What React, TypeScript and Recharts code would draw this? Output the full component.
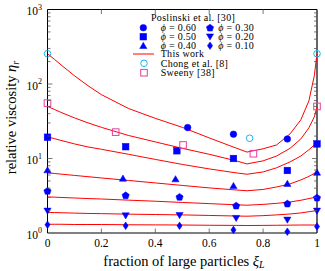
import React from 'react';
import { ComposedChart, Line, Scatter, XAxis, YAxis, ReferenceLine, Legend } from 'recharts';

// model curves ("This work"), sampled along xi_L
const xiL = [0, 0.025, 0.05, 0.1, 0.15, 0.2, 0.3, 0.4, 0.5, 0.6, 0.7, 0.74, 0.8, 0.85, 0.9, 0.94, 0.97, 0.99, 1];
const curveChong = [255, 215, 181, 129, 95, 72, 47, 34.6, 26.2, 18.9, 13.8, 12.2, 13.5, 15.2, 21.4, 33, 59.5, 129, 255];
const curveSweeny = [50, 45.7, 41.6, 35.1, 30.1, 26.2, 20.4, 16.7, 13.7, 11.4, 9.3, 8.46, 9.3, 10.8, 13.7, 18.3, 25.8, 36.2, 49.5];
const curve50 = [19.5, 18.5, 17.5, 15.7, 14.3, 13.3, 11.4, 9.72, 8.33, 7.25, 6.41, 6.15, 6.6, 7.5, 9.0, 10.8, 13.1, 15.2, 16.9];
const curve40 = [6.41, 6.3, 6.17, 5.93, 5.7, 5.48, 5.08, 4.7, 4.35, 4.03, 3.78, 3.69, 3.84, 4.15, 4.56, 5.16, 5.75, 6.3, 6.61];
const curve30 = [3.05, 3.03, 3.0, 2.95, 2.9, 2.86, 2.76, 2.67, 2.57, 2.48, 2.39, 2.36, 2.42, 2.5, 2.61, 2.75, 2.9, 3.0, 3.07];
const curve20 = [1.89, 1.88, 1.87, 1.85, 1.83, 1.82, 1.79, 1.77, 1.75, 1.72, 1.69, 1.68, 1.71, 1.75, 1.8, 1.86, 1.93, 1.98, 2.01];
const curve10 = [1.31, 1.31, 1.31, 1.3, 1.3, 1.3, 1.29, 1.285, 1.28, 1.27, 1.265, 1.26, 1.265, 1.27, 1.275, 1.28, 1.28, 1.28, 1.28];

// measured data [xi_L, eta_r]
const poslinski60 = [[0.52, 26], [0.69, 21.2], [0.89, 18.3]];
const poslinski50 = [[0, 19.3], [0.29, 14.4], [0.48, 12.7], [0.69, 10.0], [0.89, 6.9], [1, 15.7]];
const poslinski40 = [[0, 7.0], [0.28, 5.4], [0.475, 5.3], [0.69, 4.3], [0.89, 4.6], [1, 6.5]];
const poslinski30 = [[0, 3.67], [0.29, 3.2], [0.49, 3.05], [0.7, 2.33], [0.89, 2.48], [1, 2.98]];
const poslinski20 = [[0, 1.98], [0.29, 1.71], [0.49, 1.73], [0.7, 1.58], [0.89, 1.5], [1, 1.98]];
const poslinski10 = [[0, 1.29], [0.29, 1.25], [0.49, 1.25], [0.69, 1.1], [0.89, 1.04], [1, 1.22]];
const chong = [[0, 255], [0.75, 18.7], [1, 255]];
const sweeny = [[0, 55.4], [0.253, 22.6], [0.503, 15.2], [0.764, 11.6], [1, 50]];

const xTicks = [0, 0.2, 0.4, 0.6, 0.8, 1];
const xTickLabels = ['0', '0.2', '0.4', '0.6', '0.8', '1'];
const yMajor = [1, 10, 100, 1000];
const yExp = ['0', '1', '2', '3'];
const yTicks = [1, 2, 3, 4, 5, 6, 7, 8, 9, 10, 20, 30, 40, 50, 60, 70, 80, 90, 100, 200, 300, 400, 500, 600, 700, 800, 900, 1000];

const BLUE = '#0000ff';
const RED = '#ff0000';
const CYAN = '#22b4e6';
const MAGENTA = '#e8409a';
const PLOT_TOP = 9.5;
const PLOT_RIGHT = 317;
const TICK = '#555';

const curve = (ys: number[]) => xiL.map((x, i) => ({ x, y: ys[i] }));
const pts = (d: number[][]) => d.map(([x, y]) => ({ x, y }));

function poly(cx: number, cy: number, r: number, n: number, start: number) {
  const out: string[] = [];
  for (let k = 0; k < n; k++) {
    const a = start + (k * 2 * Math.PI) / n;
    out.push(`${cx + r * Math.cos(a)},${cy + r * Math.sin(a)}`);
  }
  return out.join(' ');
}

function Mark({ kind, cx, cy, color, open }: { kind: string; cx: number; cy: number; color: string; open?: boolean }) {
  const fill = open ? 'none' : color;
  const sw = open ? 1 : 0.5;
  switch (kind) {
    case 'square':
      return <rect x={cx - 3.3} y={cy - 3.3} width={6.6} height={6.6} fill={fill} stroke={color} strokeWidth={sw} />;
    case 'triangle':
      return <polygon points={`${cx},${cy - 3.4} ${cx + 3.6},${cy + 2.8} ${cx - 3.6},${cy + 2.8}`} fill={fill} stroke={color} strokeWidth={sw} />;
    case 'triangleDown':
      return <polygon points={`${cx},${cy + 3.4} ${cx + 3.6},${cy - 2.8} ${cx - 3.6},${cy - 2.8}`} fill={fill} stroke={color} strokeWidth={sw} />;
    case 'pentagon':
      return <polygon points={poly(cx, cy + 0.3, 3.8, 5, -Math.PI / 2)} fill={fill} stroke={color} strokeWidth={sw} />;
    case 'diamond':
      return <polygon points={`${cx},${cy - 3.8} ${cx + 2.6},${cy} ${cx},${cy + 3.8} ${cx - 2.6},${cy}`} fill={fill} stroke={color} strokeWidth={sw} />;
    default:
      return <circle cx={cx} cy={cy} r={3.3} fill={fill} stroke={color} strokeWidth={sw} />;
  }
}

const shape = (kind: string, color: string, open?: boolean) => (p: any) => (
  <Mark kind={kind} cx={p.cx} cy={p.cy} color={color} open={open} />
);

function YTick(props: any) {
  const { x, y, payload } = props;
  const v = payload.value;
  const mi = yMajor.indexOf(v);
  const len = mi >= 0 ? 5 : 3;
  const edge = v === 1 || v === 1000;
  return (
    <g>
      {!edge && <line x1={x} x2={x + len} y1={y} y2={y} stroke={TICK} strokeWidth={0.8} />}
      {!edge && <line x1={PLOT_RIGHT - len} x2={PLOT_RIGHT} y1={y} y2={y} stroke={TICK} strokeWidth={0.8} />}
      {mi >= 0 && (
        <text x={x - 5.5} y={y + 5.5} textAnchor="end" fontSize={11.5} fill="#000">
          10<tspan dy={-5.5} fontSize={8}>{yExp[mi]}</tspan>
        </text>
      )}
    </g>
  );
}

function XTick(props: any) {
  const { x, y, payload } = props;
  const i = xTicks.indexOf(payload.value);
  const inner = i > 0 && i < xTicks.length - 1;
  return (
    <g>
      {inner && <line x1={x} x2={x} y1={y} y2={y - 4.5} stroke={TICK} strokeWidth={0.8} />}
      {inner && <line x1={x} x2={x} y1={PLOT_TOP} y2={PLOT_TOP + 4.5} stroke={TICK} strokeWidth={0.8} />}
      <text x={x} y={y + 13.5} textAnchor="middle" fontSize={11.5} fill="#000">
        {xTickLabels[i]}
      </text>
    </g>
  );
}

const XTitle = () => (
  <text x={184} y={265.5} textAnchor="middle" fontSize={14.5} fill="#000">
    fraction of large particles <tspan fontStyle="italic">ξ</tspan>
    <tspan fontStyle="italic" fontSize={10} dy={2.5}>L</tspan>
  </text>
);

const YTitle = () => (
  <text transform="translate(16,117.5) rotate(-90)" textAnchor="middle" fontSize={14.5} fill="#000">
    relative viscosity <tspan fontStyle="italic">η</tspan>
    <tspan fontStyle="italic" fontSize={10} dy={2.5}>r</tspan>
  </text>
);

const legendRows = [
  { kind: 'circle', label: '0.60', kind2: 'pentagon', label2: '0.30' },
  { kind: 'square', label: '0.50', kind2: 'triangleDown', label2: '0.20' },
  { kind: 'triangle', label: '0.40', kind2: 'diamond', label2: '0.10' },
];

function LegendBox() {
  const rowY = [19.7, 28.7, 37.7, 46, 55.3, 64.7];
  const fs = 10;
  const ls = 0.3;
  return (
    <svg width={190} height={74} style={{ display: 'block' }}>
      <text x={21} y={12.7} fontSize={fs} letterSpacing={ls}>Poslinski et al. [30]</text>
      {legendRows.map((r, i) => (
        <g key={r.label}>
          <Mark kind={r.kind} cx={13.3} cy={rowY[i]} color={BLUE} />
          <text x={30.7} y={rowY[i] + 3.4} fontSize={fs} letterSpacing={ls}>
            <tspan fontStyle="italic">ϕ</tspan> = {r.label}
          </text>
          <Mark kind={r.kind2} cx={80} cy={rowY[i]} color={BLUE} />
          <text x={88.3} y={rowY[i] + 3.4} fontSize={fs} letterSpacing={ls}>
            <tspan fontStyle="italic">ϕ</tspan> = {r.label2}
          </text>
        </g>
      ))}
      <line x1={3} x2={24} y1={rowY[3]} y2={rowY[3]} stroke={RED} strokeWidth={1} />
      <text x={30.7} y={rowY[3] + 3.4} fontSize={fs} letterSpacing={ls}>This work</text>
      <Mark kind="circle" cx={14} cy={rowY[4]} color={CYAN} open />
      <text x={30.7} y={rowY[4] + 3.4} fontSize={fs} letterSpacing={ls}>Chong et al. [8]</text>
      <Mark kind="square" cx={14} cy={rowY[5]} color={MAGENTA} open />
      <text x={30.7} y={rowY[5] + 3.4} fontSize={fs} letterSpacing={ls}>Sweeny [38]</text>
    </svg>
  );
}

const modelCurves = [curveChong, curveSweeny, curve50, curve40, curve30, curve20, curve10];
const poslinski = [
  { d: poslinski60, kind: 'circle' },
  { d: poslinski50, kind: 'square' },
  { d: poslinski40, kind: 'triangle' },
  { d: poslinski30, kind: 'pentagon' },
  { d: poslinski20, kind: 'triangleDown' },
  { d: poslinski10, kind: 'diamond' },
];

export default function App() {
  return (
    <div style={{ position: 'absolute', left: 0, top: 0, width: 325, height: 271, background: '#fff', fontFamily: '"Liberation Serif", serif' }}>
      <ComposedChart width={325} height={271} margin={{ top: PLOT_TOP, right: 325 - PLOT_RIGHT, left: 0, bottom: 0 }}>
        <XAxis
          dataKey="x"
          type="number"
          domain={[0, 1]}
          ticks={xTicks}
          interval={0}
          height={38}
          tickSize={0}
          tickMargin={0}
          tickLine={false}
          tick={<XTick />}
          axisLine={{ stroke: '#000', strokeWidth: 1 }}
          label={<XTitle />}
        />
        <YAxis
          dataKey="y"
          type="number"
          scale="log"
          domain={[1, 1000]}
          ticks={yTicks}
          interval={0}
          width={47.5}
          tickSize={0}
          tickMargin={0}
          tickLine={false}
          tick={<YTick />}
          axisLine={{ stroke: '#000', strokeWidth: 1 }}
          label={<YTitle />}
        />
        <ReferenceLine y={1000} stroke="#000" strokeWidth={1} />
        <ReferenceLine x={1} stroke="#000" strokeWidth={1.2} />
        {modelCurves.map((c, i) => (
          <Line
            key={i}
            data={curve(c)}
            dataKey="y"
            type="linear"
            stroke={RED}
            strokeWidth={1}
            dot={false}
            isAnimationActive={false}
          />
        ))}
        {poslinski.map((s) => (
          <Scatter key={s.kind} data={pts(s.d)} dataKey="y" shape={shape(s.kind, BLUE)} isAnimationActive={false} />
        ))}
        <Scatter data={pts(chong)} dataKey="y" shape={shape('circle', CYAN, true)} isAnimationActive={false} />
        <Scatter data={pts(sweeny)} dataKey="y" shape={shape('square', MAGENTA, true)} isAnimationActive={false} />
        <Legend
          layout="vertical"
          verticalAlign="middle"
          align="center"
          wrapperStyle={{ position: 'absolute', left: 130, top: 8, width: 190, height: 74 }}
          content={() => <LegendBox />}
        />
      </ComposedChart>
    </div>
  );
}
